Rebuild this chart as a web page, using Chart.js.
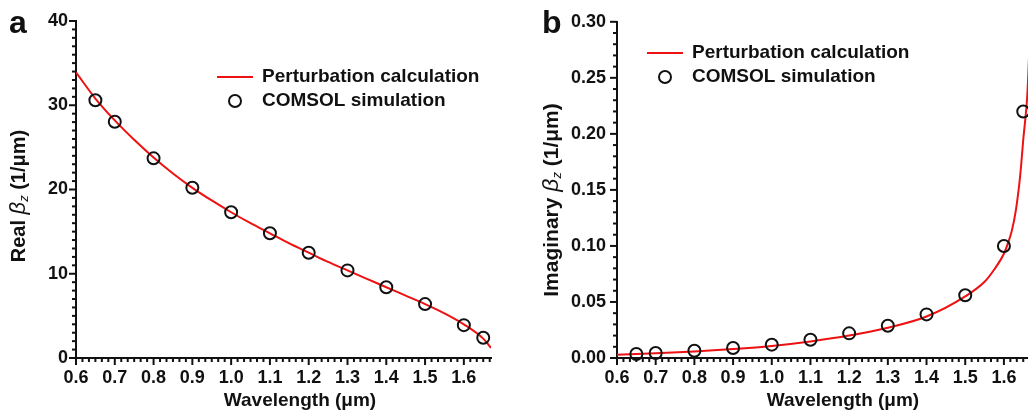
<!DOCTYPE html>
<html><head><meta charset="utf-8">
<script src="https://cdn.jsdelivr.net/npm/chart.js@4.4.1/dist/chart.umd.min.js"></script>
<style>
html,body{margin:0;padding:0;width:1028px;height:416px;overflow:hidden;background:#fff;}
#c1{position:absolute;left:0;top:0;}
#c2{position:absolute;left:514px;top:0;}
</style></head><body>
<canvas id="c1" width="500" height="416"></canvas>
<canvas id="c2" width="525" height="416"></canvas>
<script>
// ---- data ----
const xTicks = [0.6,0.7,0.8,0.9,1.0,1.1,1.2,1.3,1.4,1.5,1.6];
const xTickLabels = ['0.6','0.7','0.8','0.9','1.0','1.1','1.2','1.3','1.4','1.5','1.6'];
const yTicksRe = [0,10,20,30,40];
const yTickLabelsRe = ['0','10','20','30','40'];
const yTicksIm = [0,0.05,0.10,0.15,0.20,0.25,0.30];
const yTickLabelsIm = ['0.00','0.05','0.10','0.15','0.20','0.25','0.30'];

// perturbation calculation (red line)
const lineWlRe = [0.6,0.65,0.7,0.75,0.8,0.85,0.9,0.95,1.0,1.05,1.1,1.15,1.2,1.25,1.3,1.35,1.4,1.45,1.5,1.55,1.6,1.65,1.67];
const lineRe   = [33.9,30.8,28.2,25.9,23.8,21.9,20.2,18.7,17.3,16.0,14.8,13.6,12.5,11.4,10.4,9.4,8.4,7.4,6.4,5.3,4.0,2.3,1.2];
const lineWlIm = [0.6,0.7,0.8,0.9,1.0,1.1,1.2,1.3,1.4,1.5,1.55,1.575,1.6,1.61,1.62,1.63,1.64,1.645,1.65,1.655,1.66,1.665,1.67];
const lineIm   = [0.0030,0.0042,0.0058,0.0080,0.0108,0.0148,0.0200,0.0270,0.0370,0.0550,0.0680,0.0790,0.0930,0.1020,0.1130,0.1300,0.1560,0.1740,0.1950,0.2120,0.2320,0.2700,0.3200];

// COMSOL simulation (circles)
const simWl = [0.65,0.7,0.8,0.9,1.0,1.1,1.2,1.3,1.4,1.5,1.6,1.65];
const simRe = [30.6,28.05,23.7,20.2,17.3,14.8,12.5,10.4,8.4,6.4,3.9,2.4];
const simIm = [0.0036,0.0045,0.0065,0.0089,0.0119,0.0163,0.0220,0.0288,0.0389,0.0560,0.1000,0.2200];

const seriesNames = ['Perturbation calculation','COMSOL simulation'];

const FONT = '"Liberation Sans", Arial, Helvetica, sans-serif';
Chart.defaults.font.family = FONT;
Chart.defaults.color = '#111';

const decoPlugin = {
  id: 'deco',
  afterDraw(chart, args, o) {
    const ctx = chart.ctx, xs = chart.scales.x, ys = chart.scales.y, ca = chart.chartArea;
    ctx.save();
    ctx.strokeStyle = '#111'; ctx.lineWidth = 2; ctx.lineCap = 'butt';
    for (let k = 0; ; k++) {
      const v = xs.min + k * o.xMinor;
      if (v > xs.max + 1e-9) break;
      const major = k % o.xMinorPer === 0;
      const px = xs.getPixelForValue(v);
      ctx.beginPath(); ctx.moveTo(px, ca.bottom); ctx.lineTo(px, ca.bottom + (major ? 7 : 4)); ctx.stroke();
    }
    for (let k = 0; ; k++) {
      const v = ys.min + k * o.yMinor;
      if (v > ys.max + 1e-9) break;
      const major = k % o.yMinorPer === 0;
      const py = ys.getPixelForValue(v);
      ctx.beginPath(); ctx.moveTo(ca.left, py); ctx.lineTo(ca.left - (major ? 7 : 4), py); ctx.stroke();
    }
    // panel letter
    ctx.fillStyle = '#111';
    ctx.font = 'bold 32px ' + FONT;
    ctx.textBaseline = 'alphabetic'; ctx.textAlign = 'left';
    ctx.fillText(o.panel, o.panelX, 33);
    // x title
    ctx.font = 'bold 19px ' + FONT;
    ctx.textAlign = 'center'; ctx.textBaseline = 'middle';
    ctx.fillText('Wavelength (\u03bcm)', o.xTitleX, 401);
    // y title with italic beta and subscript z
    const parts = [
      [o.yPre + ' ', 'bold ' + o.yFont + 'px ' + FONT, 0],
      ['\u03b2', 'italic ' + (o.yFont + 2) + 'px ' + FONT, 0],
      ['z', 'italic 13px ' + FONT, 5],
      [' (1/\u03bcm)', 'bold ' + o.yFont + 'px ' + FONT, 0]
    ];
    let total = 0;
    parts.forEach(p => { ctx.font = p[1]; p.push(ctx.measureText(p[0]).width); total += p[3]; });
    ctx.translate(o.yTitleX, o.yTitleY);
    ctx.rotate(-Math.PI / 2);
    ctx.textAlign = 'left';
    let x = -total / 2;
    parts.forEach(p => { ctx.font = p[1]; ctx.fillText(p[0], x, p[2]); x += p[3]; });
    ctx.restore();
    // legend
    ctx.save();
    const ds0 = chart.data.datasets[0], ds1 = chart.data.datasets[1];
    ctx.strokeStyle = ds0.borderColor; ctx.lineWidth = ds0.borderWidth;
    ctx.beginPath(); ctx.moveTo(o.legX, o.legY); ctx.lineTo(o.legX + 36, o.legY); ctx.stroke();
    ctx.strokeStyle = ds1.borderColor; ctx.lineWidth = ds1.borderWidth;
    ctx.beginPath(); ctx.arc(o.legX + 18, o.legY + 24, ds1.pointRadius, 0, Math.PI * 2); ctx.stroke();
    ctx.fillStyle = '#111'; ctx.font = 'bold 19px ' + FONT;
    ctx.textAlign = 'left'; ctx.textBaseline = 'middle';
    ctx.fillText(ds0.label, o.legX + 45, o.legY);
    ctx.fillText(ds1.label, o.legX + 45, o.legY + 24);
    ctx.restore();
  }
};

function makeChart(id, lineX, lineY, simY, yTicks, yLabels, yMax, yAxisW, padRight, decoOpts) {
  return new Chart(document.getElementById(id), {
    type: 'scatter',
    data: {
      datasets: [
        { label: seriesNames[0], data: lineX.map((v, i) => ({x: v, y: lineY[i]})), showLine: true,
          borderColor: '#ee1111', borderWidth: 2, pointRadius: 0, cubicInterpolationMode: 'monotone', order: 2 },
        { label: seriesNames[1], data: simWl.map((v, i) => ({x: v, y: simY[i]})), showLine: false,
          borderColor: '#111', backgroundColor: 'rgba(0,0,0,0)', borderWidth: 2, pointRadius: 6, pointHoverRadius: 6, clip: false, order: 1 }
      ]
    },
    options: {
      responsive: false, animation: false, events: [],
      layout: { padding: { top: 21, right: padRight, left: 0, bottom: 0 } },
      plugins: { legend: { display: false }, tooltip: { enabled: false }, deco: decoOpts },
      scales: {
        x: {
          type: 'linear', min: 0.6, max: 1.67,
          afterBuildTicks: s => { s.ticks = xTicks.map(v => ({value: v})); },
          afterFit: s => { s.height = 58; },
          grid: { display: false, drawTicks: false },
          border: { display: true, color: '#111', width: 2 },
          ticks: { padding: 9, maxRotation: 0, autoSkip: false, color: '#111',
            font: { size: 18, weight: 'bold' }, callback: (v, i) => xTickLabels[i] }
        },
        y: {
          type: 'linear', min: 0, max: yMax,
          afterBuildTicks: s => { s.ticks = yTicks.map(v => ({value: v})); },
          afterFit: s => { s.width = yAxisW; },
          grid: { display: false, drawTicks: false },
          border: { display: true, color: '#111', width: 2 },
          ticks: { padding: yAxisW > 90 ? 11 : 8, autoSkip: false, color: '#111',
            font: { size: 18, weight: 'bold' }, callback: (v, i) => yLabels[i] }
        }
      }
    },
    plugins: [decoPlugin]
  });
}

makeChart('c1', lineWlRe, lineRe, simRe, yTicksRe, yTickLabelsRe, 40, 76, 9,
  { panel: 'a', panelX: 9, xTitleX: 300, yPre: 'Real', yFont: 20, yTitleX: 19, yTitleY: 196,
    legX: 217, legY: 77, xMinor: 0.1 / 6, xMinorPer: 6, yMinor: 1, yMinorPer: 10 });
makeChart('c2', lineWlIm, lineIm, simIm, yTicksIm, yTickLabelsIm, 0.30, 103, 4,
  { panel: 'b', panelX: 28, xTitleX: 329, yPre: 'Imaginary', yFont: 21, yTitleX: 38, yTitleY: 200,
    legX: 133, legY: 53, xMinor: 0.1 / 6, xMinorPer: 6, yMinor: 0.01, yMinorPer: 5 });
</script>
</body></html>
